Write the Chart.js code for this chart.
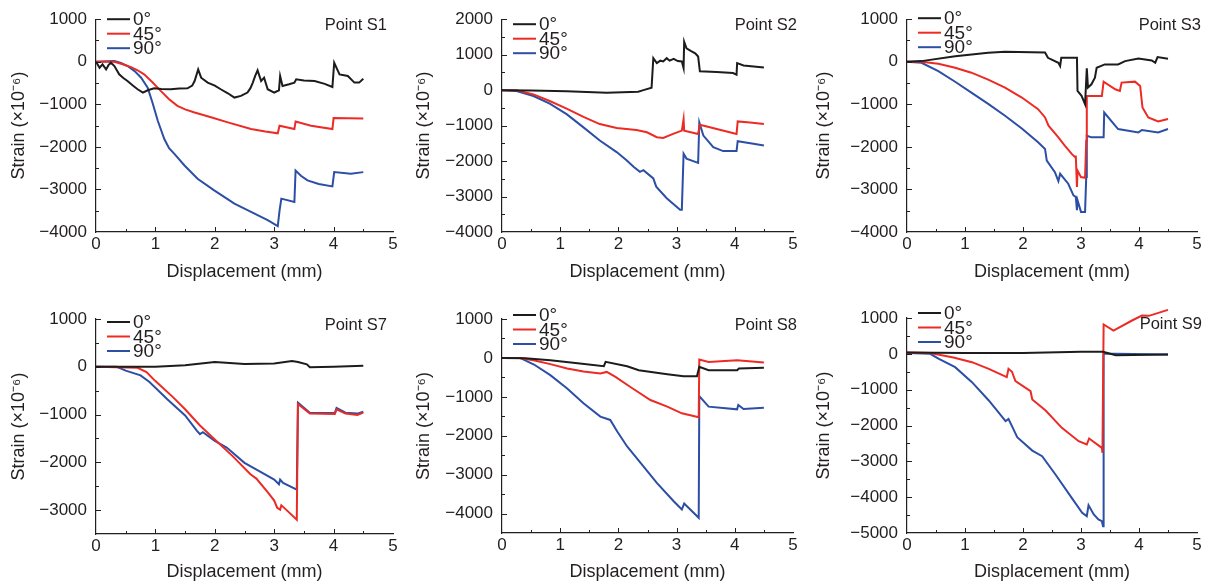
<!DOCTYPE html>
<html>
<head>
<meta charset="utf-8">
<script src="https://cdn.jsdelivr.net/npm/chart.js@4.4.1/dist/chart.umd.min.js"></script>
<style>
  body { margin: 0; background: #fff; width: 1211px; height: 585px; position: relative; overflow: hidden; }
  canvas { position: absolute; }
</style>
</head>
<body>
<canvas id="s1"></canvas>
<canvas id="s2"></canvas>
<canvas id="s3"></canvas>
<canvas id="s7"></canvas>
<canvas id="s8"></canvas>
<canvas id="s9"></canvas>
<script>
// legend labels + colours
const angleLabels = ['0°', '45°', '90°'];
const lineColors = ['#1c1c1c', '#ec2b25', '#2c4fa5'];
const xTicks = [0, 1, 2, 3, 4, 5];

// tick labels per panel
const yTicksS1 = [1000, 0, -1000, -2000, -3000, -4000];
const yTicksS2 = [2000, 1000, 0, -1000, -2000, -3000, -4000];
const yTicksS3 = [1000, 0, -1000, -2000, -3000, -4000];
const yTicksS7 = [1000, 0, -1000, -2000, -3000];
const yTicksS8 = [1000, 0, -1000, -2000, -3000, -4000];
const yTicksS9 = [1000, 0, -1000, -2000, -3000, -4000, -5000];

// data: [displacement mm, strain x1e-6]
const s1Deg0 = [[0,0],[0.06,-140],[0.11,-62],[0.17,-179],[0.21,-80],[0.25,-23],[0.31,-101],[0.39,-296],[0.46,-380],[0.53,-452],[0.62,-560],[0.7,-646],[0.79,-724],[0.87,-670],[0.98,-623],[1.1,-640],[1.26,-646],[1.4,-630],[1.54,-623],[1.62,-560],[1.66,-452],[1.72,-179],[1.77,-374],[1.88,-490],[2.0,-560],[2.1,-646],[2.22,-740],[2.33,-841],[2.44,-802],[2.55,-724],[2.6,-620],[2.64,-490],[2.68,-330],[2.72,-202],[2.78,-452],[2.83,-374],[2.89,-646],[3.0,-724],[3.08,-670],[3.1,-335],[3.14,-568],[3.25,-530],[3.34,-490],[3.37,-413],[3.5,-440],[3.68,-452],[3.85,-520],[3.98,-592],[4.01,-23],[4.1,-296],[4.24,-335],[4.35,-490],[4.43,-490],[4.5,-397]];
const s1Deg45 = [[0,0],[0.31,0],[0.45,-60],[0.59,-125],[0.7,-200],[0.81,-296],[0.95,-480],[1.09,-685],[1.23,-880],[1.37,-1036],[1.5,-1120],[1.66,-1192],[1.95,-1310],[2.22,-1425],[2.61,-1581],[2.85,-1640],[3.06,-1682],[3.09,-1503],[3.34,-1581],[3.36,-1402],[3.62,-1503],[3.98,-1581],[4.0,-1324],[4.5,-1332]];
const s1Deg90 = [[0,0],[0.31,15],[0.42,-30],[0.53,-100],[0.65,-220],[0.76,-374],[0.87,-607],[0.95,-958],[1.04,-1386],[1.15,-1815],[1.23,-2030],[1.32,-2165],[1.49,-2438],[1.71,-2749],[1.99,-3022],[2.33,-3333],[2.61,-3528],[2.89,-3723],[3.06,-3863],[3.09,-3500],[3.12,-3216],[3.34,-3294],[3.36,-2555],[3.45,-2680],[3.56,-2788],[3.75,-2870],[3.98,-2928],[4.01,-2593],[4.29,-2632],[4.5,-2593]];

const s2Deg0 = [[0,0],[0.5,-10],[1.11,-28],[1.8,-74],[2.34,-46],[2.43,0],[2.57,65],[2.6,900],[2.66,760],[2.72,830],[2.77,808],[2.83,900],[2.88,830],[2.95,880],[3.02,820],[3.09,808],[3.12,622],[3.13,1365],[3.17,1179],[3.25,1100],[3.32,1040],[3.37,947],[3.4,529],[3.69,511],[3.97,483],[4.03,436],[4.04,761],[4.15,696],[4.5,641]];
const s2Deg45 = [[0,0],[0.25,0],[0.54,-121],[0.82,-306],[1.11,-520],[1.4,-752],[1.68,-956],[1.97,-1068],[2.31,-1124],[2.49,-1188],[2.66,-1328],[2.77,-1346],[2.94,-1235],[3.09,-1142],[3.12,-817],[3.13,-1142],[3.37,-1235],[3.4,-975],[3.69,-1096],[4.03,-1235],[4.05,-882],[4.26,-910],[4.5,-956]];
const s2Deg90 = [[0,0],[0.25,-28],[0.54,-167],[0.82,-380],[1.11,-678],[1.4,-1049],[1.68,-1421],[1.97,-1746],[2.14,-1978],[2.26,-2163],[2.37,-2303],[2.43,-2256],[2.6,-2488],[2.65,-2720],[2.83,-3046],[3.06,-3371],[3.09,-3371],[3.12,-1792],[3.17,-1931],[3.37,-2052],[3.39,-910],[3.46,-1281],[3.63,-1606],[3.8,-1718],[4.03,-1718],[4.05,-1439],[4.32,-1513],[4.5,-1560]];

const s3Deg0 = [[0,0],[0.25,15],[0.83,132],[1.4,210],[1.69,234],[2.38,218],[2.43,93],[2.61,-23],[2.64,-101],[2.66,93],[2.93,93],[2.94,-685],[3.01,-802],[3.07,-997],[3.1,-156],[3.12,-607],[3.18,-530],[3.24,-374],[3.27,-140],[3.41,-62],[3.64,-62],[3.76,15],[3.99,78],[4.22,31],[4.28,-23],[4.32,109],[4.5,70]];
const s3Deg45 = [[0,0],[0.25,0],[0.54,-47],[0.83,-140],[1.11,-257],[1.4,-420],[1.69,-607],[1.98,-841],[2.26,-1114],[2.38,-1308],[2.44,-1503],[2.61,-1776],[2.72,-1970],[2.84,-2165],[2.9,-2243],[2.91,-2204],[2.93,-2944],[2.94,-2555],[3.0,-2710],[3.07,-2726],[3.09,-1854],[3.1,-802],[3.18,-802],[3.36,-802],[3.39,-467],[3.59,-646],[3.67,-685],[3.7,-490],[3.93,-467],[4.02,-568],[4.06,-1075],[4.16,-1308],[4.33,-1402],[4.5,-1347]];
const s3Deg90 = [[0,0],[0.25,-23],[0.54,-218],[0.83,-470],[1.11,-724],[1.4,-990],[1.69,-1269],[1.98,-1570],[2.26,-1893],[2.38,-2048],[2.41,-2321],[2.55,-2593],[2.61,-2804],[2.64,-2632],[2.78,-2866],[2.87,-3139],[2.91,-3178],[2.93,-3489],[2.94,-3255],[3.0,-3528],[3.07,-3528],[3.09,-2710],[3.1,-1737],[3.18,-1776],[3.39,-1776],[3.4,-1192],[3.64,-1581],[3.99,-1659],[4.05,-1604],[4.33,-1659],[4.5,-1581]];

const s7Deg0 = [[0,0],[1.0,0],[1.5,30],[2.0,100],[2.5,60],[3.0,70],[3.3,120],[3.4,100],[3.55,50],[3.6,-10],[4.0,0],[4.5,20]];
const s7Deg45 = [[0,0],[0.7,-20],[0.85,-110],[1.0,-300],[1.3,-640],[1.5,-890],[1.75,-1230],[2.0,-1520],[2.3,-1870],[2.6,-2250],[2.7,-2340],[2.9,-2640],[3.0,-2800],[3.05,-2950],[3.1,-2990],[3.12,-2900],[3.2,-2990],[3.38,-3200],[3.4,-780],[3.6,-980],[4.02,-990],[4.05,-890],[4.2,-980],[4.4,-1010],[4.5,-960]];
const s7Deg90 = [[0,0],[0.35,0],[0.5,-80],[0.75,-180],[0.9,-320],[1.2,-680],[1.5,-1020],[1.7,-1340],[1.75,-1410],[1.8,-1370],[2.0,-1550],[2.2,-1690],[2.5,-2010],[2.8,-2220],[3.0,-2360],[3.08,-2460],[3.1,-2360],[3.15,-2430],[3.38,-2570],[3.4,-750],[3.6,-960],[4.02,-970],[4.05,-860],[4.2,-960],[4.4,-980],[4.5,-940]];

const s8Deg0 = [[0,0],[0.4,-10],[0.83,-60],[1.3,-140],[1.75,-213],[1.78,-102],[2.15,-213],[2.35,-315],[2.84,-418],[3.12,-469],[3.35,-469],[3.39,-230],[3.55,-315],[4.04,-315],[4.07,-273],[4.5,-256]];
const s8Deg45 = [[0,0],[0.3,0],[0.54,-60],[0.83,-160],[1.12,-273],[1.4,-350],[1.69,-400],[1.8,-360],[1.95,-486],[2.2,-742],[2.55,-1083],[2.84,-1253],[3.09,-1424],[3.38,-1526],[3.39,-43],[3.55,-102],[4.04,-60],[4.5,-119]];
const s8Deg90 = [[0,0],[0.31,0],[0.55,-170],[0.83,-443],[1.12,-784],[1.4,-1168],[1.69,-1509],[1.86,-1594],[1.98,-1893],[2.15,-2276],[2.43,-2788],[2.66,-3214],[2.95,-3683],[3.09,-3896],[3.13,-3743],[3.38,-4109],[3.39,-980],[3.55,-1253],[4.04,-1321],[4.06,-1210],[4.15,-1313],[4.5,-1279]];

const s9Deg0 = [[0,40],[1.0,20],[2.0,20],[3.0,60],[3.38,60],[3.6,-40],[4.5,-20]];
const s9Deg45 = [[0,40],[0.4,20],[0.8,-100],[1.12,-233],[1.41,-419],[1.72,-651],[1.75,-419],[1.81,-500],[1.87,-763],[2.13,-1042],[2.16,-1274],[2.39,-1581],[2.67,-2065],[2.96,-2437],[3.1,-2530],[3.14,-2363],[3.36,-2623],[3.37,-2763],[3.39,819],[3.56,651],[3.88,930],[4.05,1070],[4.17,1060],[4.5,1228]];
const s9Deg90 = [[0,20],[0.4,0],[0.55,-140],[0.83,-372],[1.12,-791],[1.41,-1302],[1.7,-1879],[1.75,-1820],[1.81,-2019],[1.9,-2326],[2.16,-2700],[2.33,-2856],[2.56,-3367],[2.84,-4019],[3.02,-4437],[3.1,-4530],[3.13,-4223],[3.22,-4484],[3.3,-4623],[3.36,-4670],[3.38,-4810],[3.39,0],[3.6,0],[4.5,-20]];

const FONT = "'Liberation Sans', Arial, Helvetica, sans-serif";
const INK = '#231f20';

function fmt(v) {
  return v < 0 ? '\u2212' + Math.abs(v) : String(v);
}

// inward ticks, legend, point label
const overlay = {
  id: 'overlay',
  afterDraw(chart, args, o) {
    const { ctx, chartArea: a, scales: { x, y } } = chart;
    ctx.save();
    ctx.strokeStyle = INK;
    ctx.lineWidth = 1;
    ctx.beginPath();
    for (let v = 0.5; v < 5; v += 0.5) {
      const px = Math.round(x.getPixelForValue(v)) + 0.5;
      const len = Number.isInteger(v) ? 5 : 3;
      ctx.moveTo(px, a.bottom);
      ctx.lineTo(px, a.bottom - len);
    }
    for (let v = y.max; v > y.min; v -= 500) {
      const py = Math.round(y.getPixelForValue(v)) + 0.5;
      const len = v % 1000 === 0 ? 5 : 3;
      ctx.moveTo(a.left, py);
      ctx.lineTo(a.left + len, py);
    }
    ctx.stroke();

    // legend
    ctx.font = '19px ' + FONT;
    ctx.textBaseline = 'middle';
    ctx.textAlign = 'left';
    chart.data.datasets.forEach((ds, i) => {
      const ly = a.top + o.legendDy + i * 14.5;
      ctx.strokeStyle = ds.borderColor;
      ctx.lineWidth = 2;
      ctx.beginPath();
      ctx.moveTo(a.left + 11, ly);
      ctx.lineTo(a.left + 34, ly);
      ctx.stroke();
      ctx.fillStyle = INK;
      ctx.fillText(ds.label, a.left + 37, ly + 1);
    });

    ctx.font = '16.5px ' + FONT;
    ctx.textAlign = 'right';
    ctx.fillText(o.name, a.right + o.labelDx, a.top + 6);
    ctx.restore();
  }
};

const panels = [
  { id: 's1', name: 'Point S1', series: [s1Deg0, s1Deg45, s1Deg90], yTicks: yTicksS1, yMin: -4000, yMax: 1000,
    left: 0, top: 0, w: 400, h: 285, axisW: 96, padTop: 18, padRight: 7, axisH: 53, legendDy: 0, labelDx: -6 },
  { id: 's2', name: 'Point S2', series: [s2Deg0, s2Deg45, s2Deg90], yTicks: yTicksS2, yMin: -4000, yMax: 2000,
    left: 405, top: 0, w: 395, h: 285, axisW: 97, padTop: 17, padRight: 7, axisH: 53, legendDy: 5, labelDx: 4 },
  { id: 's3', name: 'Point S3', series: [s3Deg0, s3Deg45, s3Deg90], yTicks: yTicksS3, yMin: -4000, yMax: 1000,
    left: 805, top: 0, w: 406, h: 285, axisW: 102, padTop: 18, padRight: 14, axisH: 53, legendDy: -1, labelDx: 4 },
  { id: 's7', name: 'Point S7', series: [s7Deg0, s7Deg45, s7Deg90], yTicks: yTicksS7, yMin: -3500, yMax: 1000,
    left: 0, top: 290, w: 400, h: 295, axisW: 96, padTop: 29, padRight: 7, axisH: 51, legendDy: 3, labelDx: -6 },
  { id: 's8', name: 'Point S8', series: [s8Deg0, s8Deg45, s8Deg90], yTicks: yTicksS8, yMin: -4500, yMax: 1000,
    left: 405, top: 290, w: 395, h: 295, axisW: 97, padTop: 29, padRight: 7, axisH: 52, legendDy: -4, labelDx: 4 },
  { id: 's9', name: 'Point S9', series: [s9Deg0, s9Deg45, s9Deg90], yTicks: yTicksS9, yMin: -5000, yMax: 1000,
    left: 805, top: 290, w: 406, h: 295, axisW: 102, padTop: 28, padRight: 14, axisH: 52, legendDy: -5, labelDx: 5 }
];

panels.forEach(p => {
  const cv = document.getElementById(p.id);
  cv.width = p.w;
  cv.height = p.h;
  cv.style.left = p.left + 'px';
  cv.style.top = p.top + 'px';

  new Chart(cv, {
    type: 'line',
    data: {
      datasets: p.series.map((pts, i) => ({
        label: angleLabels[i],
        data: pts.map(([x, y]) => ({ x, y })),
        borderColor: lineColors[i],
        borderWidth: 2,
        pointRadius: 0,
        tension: 0,
        clip: false
      }))
    },
    options: {
      responsive: false,
      animation: false,
      devicePixelRatio: 1,
      layout: { padding: { top: p.padTop, right: p.padRight, left: 0, bottom: 0 } },
      plugins: {
        legend: { display: false },
        tooltip: { enabled: false },
        overlay: { name: p.name, legendDy: p.legendDy, labelDx: p.labelDx }
      },
      scales: {
        x: {
          type: 'linear', min: 0, max: 5,
          afterBuildTicks: s => { s.ticks = xTicks.map(v => ({ value: v })); },
          afterFit: s => { s.height = p.axisH; },
          ticks: { font: { family: FONT, size: 17 }, color: INK, padding: 2, maxRotation: 0, autoSkip: false },
          grid: { drawOnChartArea: false, drawTicks: false },
          border: { color: INK, width: 1.2 },
          title: { display: true, text: 'Displacement (mm)', color: INK,
                   font: { family: FONT, size: 18 }, padding: { top: 0, bottom: 2 } }
        },
        y: {
          type: 'linear', min: p.yMin, max: p.yMax,
          afterBuildTicks: s => { s.ticks = p.yTicks.map(v => ({ value: v })); },
          afterFit: s => { s.width = p.axisW; },
          ticks: { font: { family: FONT, size: 17 }, color: INK, padding: 9, callback: v => fmt(v) },
          grid: { drawOnChartArea: false, drawTicks: false },
          border: { color: INK, width: 1.2 },
          title: { display: true, text: 'Strain (×10⁻⁶)', color: INK,
                   font: { family: FONT, size: 18 }, padding: { top: 8, bottom: 0 } }
        }
      }
    },
    plugins: [overlay]
  });
});
</script>
</body>
</html>
